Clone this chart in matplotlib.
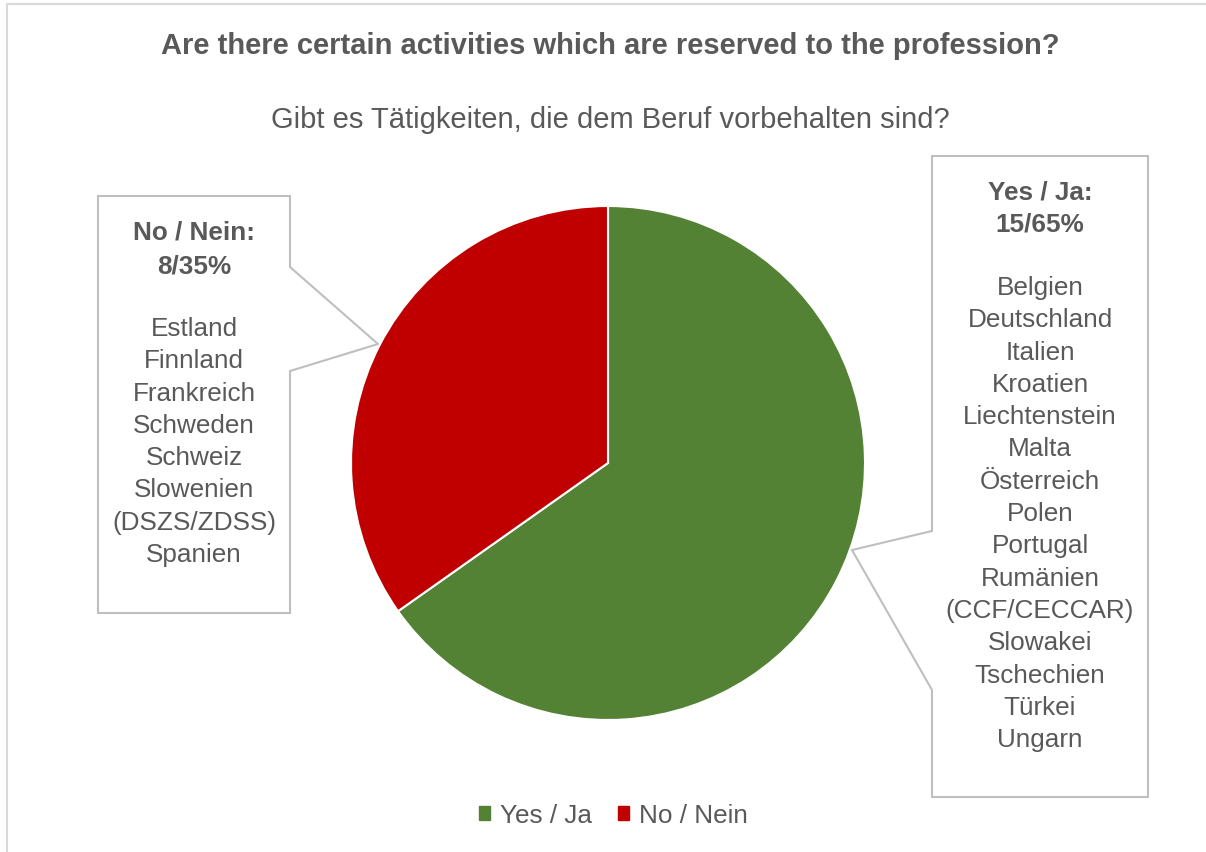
import matplotlib.pyplot as plt
from matplotlib.patches import Polygon, Patch

plt.rcParams['font.family'] = ['Liberation Sans', 'DejaVu Sans']

labels = ['Yes / Ja', 'No / Nein']
counts = [15, 8]
shares = ['15/65%', '8/35%']
colors = ['#548235', '#C00000']
yes_countries = ['Belgien', 'Deutschland', 'Italien', 'Kroatien', 'Liechtenstein', 'Malta',
                 'Österreich', 'Polen', 'Portugal', 'Rumänien', '(CCF/CECCAR)', 'Slowakei',
                 'Tschechien', 'Türkei', 'Ungarn']
no_countries = ['Estland', 'Finnland', 'Frankreich', 'Schweden', 'Schweiz', 'Slowenien',
                '(DSZS/ZDSS)', 'Spanien']

W, H = 1206, 853
grey = '#595959'
fig = plt.figure(figsize=(W / 100, H / 100), dpi=100)
ax = fig.add_axes([0, 0, 1, 1])

def Y(y):
    # image row -> data y
    return H - y

# chart border (only top and left are inside the picture)
ax.plot([6.5, 6.5, W], [Y(H), Y(5), Y(5)], color='#D9D9D9', lw=1.5)

# callout boxes
left_pts = [(98, 197), (290, 197), (290, 268), (378, 345), (290, 372), (290, 614), (98, 614)]
right_pts = [(932, 157), (1148, 157), (1148, 798), (932, 798), (932, 691), (852, 551), (932, 532)]
for pts in (left_pts, right_pts):
    ax.add_patch(Polygon([(x, Y(y)) for x, y in pts], closed=True, fc='white',
                         ec='#BFBFBF', lw=1.5, zorder=1))

ax.pie(counts, colors=colors, startangle=90, counterclock=False,
       center=(608, Y(464)), radius=257, frame=True,
       wedgeprops=dict(edgecolor='white', linewidth=1.5, zorder=2))
ax.set_xlim(0, W)
ax.set_ylim(0, H)
ax.set_aspect('equal')
ax.axis('off')

fs = 18.8
ax.text(610, Y(46), 'Are there certain activities which are reserved to the profession?',
        ha='center', va='center', fontsize=21, fontweight='bold', color=grey)
ax.text(610, Y(120), 'Gibt es Tätigkeiten, die dem Beruf vorbehalten sind?',
        ha='center', va='center', fontsize=21, color=grey)

step = 32.3
# left box text
ax.text(194, Y(233), labels[1] + ':', ha='center', va='center', fontsize=fs,
        fontweight='bold', color=grey)
ax.text(194, Y(266), shares[1], ha='center', va='center', fontsize=fs,
        fontweight='bold', color=grey)
for i, c in enumerate(no_countries):
    ax.text(194, Y(329 + i * step), c, ha='center', va='center', fontsize=fs, color=grey)

# right box text
ax.text(1040, Y(193), labels[0] + ':', ha='center', va='center', fontsize=fs,
        fontweight='bold', color=grey)
ax.text(1040, Y(225), shares[0], ha='center', va='center', fontsize=fs,
        fontweight='bold', color=grey)
for i, c in enumerate(yes_countries):
    ax.text(1040, Y(288 + i * step), c, ha='center', va='center', fontsize=fs, color=grey)

handles = [Patch(color=colors[0], label=labels[0]), Patch(color=colors[1], label=labels[1])]
ax.legend(handles=handles, loc='center', bbox_to_anchor=(613, Y(816)),
          bbox_transform=ax.transData, ncol=2, frameon=False, fontsize=18.8,
          labelcolor=grey, handlelength=0.45, handleheight=0.45, handletextpad=0.35,
          columnspacing=1.0)

fig.savefig('out.png', dpi=100)
